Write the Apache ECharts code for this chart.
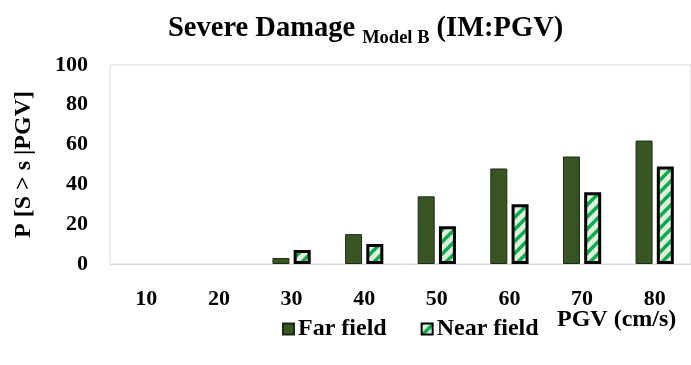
<!DOCTYPE html>
<html>
<head>
<meta charset="utf-8">
<script src="https://cdn.jsdelivr.net/npm/echarts@6/dist/echarts.min.js"></script>
<style>
  html, body { margin: 0; padding: 0; background: #ffffff; }
  #chart { width: 691px; height: 365px; }
</style>
</head>
<body>
<div id="chart"></div>
<script>
// PGV levels (cm/s)
const categories = ['10', '20', '30', '40', '50', '60', '70', '80'];
// Probability of exceeding severe damage (%)
const farField = [0, 0, 3, 15, 34, 48, 54, 62];
const nearField = [0, 0, 7, 10, 19, 30, 36, 49];
const yTicks = [0, 20, 40, 60, 80, 100];

const FONT = 'Liberation Serif';

// Diagonal hatch fill for the near-field bars
function makeHatch() {
  const s = 12;
  const c = document.createElement('canvas');
  c.width = s; c.height = s;
  const g = c.getContext('2d');
  g.fillStyle = '#e2efda';
  g.fillRect(0, 0, s, s);
  g.strokeStyle = '#00b050';
  g.lineWidth = 3.5;
  g.lineCap = 'square';
  [-s, 0, s].forEach(dx => {
    g.beginPath();
    g.moveTo(dx, s);
    g.lineTo(dx + s, 0);
    g.stroke();
  });
  return c;
}
const hatch = { image: makeHatch(), repeat: 'repeat' };

// Zero values get no outline so nothing is drawn for them
function toItems(arr) {
  return arr.map(v => (v === 0 ? { value: v, itemStyle: { borderWidth: 0 } } : v));
}

const chart = echarts.init(document.getElementById('chart'), null, { renderer: 'canvas' });
chart.setOption({
  animation: false,
  backgroundColor: '#ffffff',
  title: {
    left: 168,
    top: 14,
    padding: 0,
    text: '{a|Severe Damage }{b|Model B}{a| (IM:PGV)}',
    textStyle: {
      rich: {
        a: { fontFamily: FONT, fontWeight: 'bold', fontSize: 28.5, color: '#000', lineHeight: 34, verticalAlign: 'top' },
        b: { fontFamily: FONT, fontWeight: 'bold', fontSize: 18.5, color: '#000', lineHeight: 14, verticalAlign: 'bottom' }
      }
    }
  },
  legend: {
    left: 277,
    top: 312,
    itemWidth: 11,
    itemHeight: 11,
    itemGap: 34,
    icon: 'rect',
    textStyle: { fontFamily: FONT, fontWeight: 'bold', fontSize: 24, color: '#000', padding: [0, 0, 0, -1] },
    data: ['Far field', 'Near field']
  },
  grid: {
    left: 110,
    top: 65,
    width: 590,
    height: 199,
    show: true,
    borderColor: '#d9d9d9',
    borderWidth: 1,
    containLabel: false
  },
  graphic: [{
    type: 'text',
    left: 557,
    top: 308,
    style: { text: 'PGV (cm/s)', fontFamily: FONT, fontWeight: 'bold', fontSize: 24, fill: '#000' }
  }],
  xAxis: {
    type: 'category',
    data: categories,
    axisLine: { lineStyle: { color: '#d9d9d9', width: 1 } },
    axisTick: { show: false },
    axisLabel: { fontFamily: FONT, fontWeight: 'bold', fontSize: 22, color: '#000', margin: 24 }
  },
  yAxis: {
    type: 'value',
    min: yTicks[0],
    max: yTicks[yTicks.length - 1],
    interval: yTicks[1] - yTicks[0],
    name: 'P [S > s |PGV]',
    nameLocation: 'middle',
    nameGap: 74,
    nameTextStyle: { fontFamily: FONT, fontWeight: 'bold', fontSize: 24, color: '#000' },
    splitLine: { show: false },
    axisLine: { show: false },
    axisTick: { show: false },
    axisLabel: { fontFamily: FONT, fontWeight: 'bold', fontSize: 22, color: '#000', margin: 22 }
  },
  series: [
    {
      name: 'Far field',
      type: 'bar',
      data: toItems(farField),
      barWidth: 17,
      barGap: '25%',
      itemStyle: { color: '#375623', borderColor: '#1a2a10', borderWidth: 1 }
    },
    {
      name: 'Near field',
      type: 'bar',
      data: toItems(nearField),
      barWidth: 17,
      itemStyle: { color: hatch, borderColor: '#000000', borderWidth: 3 }
    }
  ]
});
</script>
</body>
</html>
